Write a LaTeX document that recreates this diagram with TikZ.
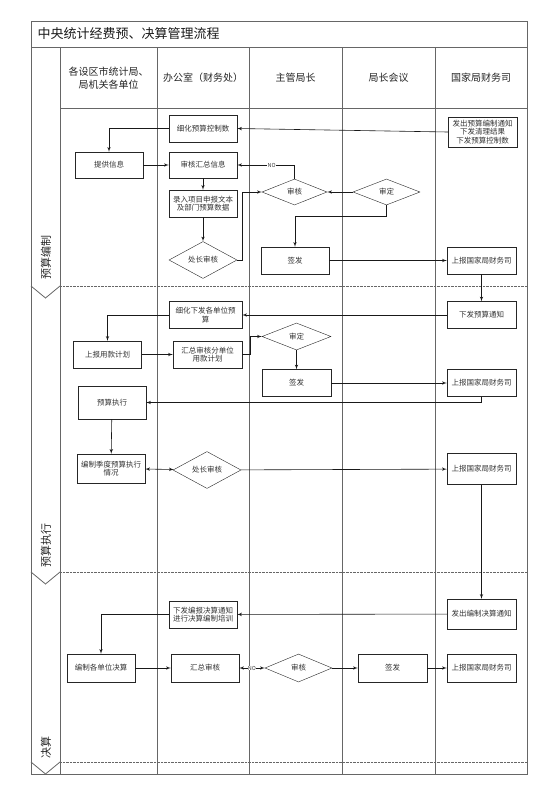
\documentclass[tikz,border=0pt]{standalone}
\usepackage{fontspec}
\newfontfamily\cjk{Noto Sans CJK SC}
\usetikzlibrary{arrows, shapes, positioning, calc}

\begin{document}
\begin{tikzpicture}
  [x=1pt, y=-1pt, >=latex', font=\cjk,
   stepbox/.style={rectangle, draw=black!85, fill=white, text=black!80, align=center,
     minimum width=68pt, minimum height=27pt, inner sep=1pt, font=\cjk\fontsize{7.5}{8.6}\selectfont},
   check/.style={diamond, draw=black!85, fill=white, text=black!80, inner sep=0pt,
     minimum width=68pt, minimum height=26pt, font=\cjk\fontsize{7.5}{8.6}\selectfont},
   head/.style={align=center, text=black!85, font=\cjk\fontsize{10}{12.5}\selectfont},
   flow/.style={->, draw=black!90, semithick},
   lane/.style={draw=black!60, line width=0.8pt},
   phase/.style={draw=black!60, densely dotted},
   nolabel/.style={fill=white, inner sep=0.4pt, text=black!75, font=\cjk\fontsize{5.5}{6}\selectfont}]
  \useasboundingbox (0,0) rectangle (555,785);

  % frame and lanes
  \draw[lane] (31,21) rectangle (527,774);
  \draw[lane] (31,47) -- (527,47);
  \draw[lane] (60,108) -- (527,108);
  \foreach \x in {60,157,249,342,435}
    \draw[lane] (\x,47) -- (\x,774);
  \foreach \y in {286,572,762} {
    \draw[phase] (60,\y) -- (527,\y);
    \draw[lane] (31,\y) -- (45.5,\y+12) -- (60,\y);
  }

  \node[anchor=west, text=black!90, font=\cjk\fontsize{13}{15}\selectfont] (title) at (34,34) {中央统计经费预、决算管理流程};
  \node[head] (h1) at (108.5,78) {各设区市统计局、\\局机关各单位};
  \node[head] (h2) at (203,78) {办公室（财务处）};
  \node[head] (h3) at (295.5,78) {主管局长};
  \node[head] (h4) at (388.5,78) {局长会议};
  \node[head] (h5) at (481,78) {国家局财务司};

  \node[rotate=90, text=black!85, font=\cjk\fontsize{11}{13}\selectfont] (s1) at (46,257) {预算编制};
  \node[rotate=90, text=black!85, font=\cjk\fontsize{11}{13}\selectfont] (s2) at (46,545) {预算执行};
  \node[rotate=90, text=black!85, font=\cjk\fontsize{11}{13}\selectfont] (s3) at (46,747) {决算};

  % budget drafting
  \node[stepbox] (A1) at (203,128.5) {细化预算控制数};
  \node[stepbox, minimum width=69pt, minimum height=30pt] (A2) at (482.5,132) {发出预算编制通知\\下发清理结果\\下发预算控制数};
  \node[stepbox, minimum height=26pt] (A3) at (109,165) {提供信息};
  \node[stepbox, minimum height=26pt] (A4) at (203,165) {审核汇总信息};
  \node[stepbox] (A5) at (203,203.5) {录入项目申报文本\\及部门预算数据};
  \node[check] (A6) at (203,260) {处长审核};
  \node[check, minimum width=65pt] (A7) at (294.5,192) {审核};
  \node[check, minimum width=67pt] (A8) at (386.5,192) {审定};
  \node[stepbox] (A9) at (295,260.5) {签发};
  \node[stepbox, minimum width=69pt] (A10) at (481.5,260.5) {上报国家局财务司};

  \draw[flow] (A2.west) -- (A1.east);
  \draw[flow] (A1.west) -| (A3.north);
  \draw[flow] (A3) -- (A4);
  \draw[flow] (A4) -- (A5);
  \draw[flow] (A5) -- (A6);
  \draw[flow] (A6.east) -- ++(5,0) |- (A7.west);
  \draw[flow] (A7.north) |- node[nolabel, pos=0.7] {NO} (A4.east);
  \draw[flow] (A8) -- (A7);
  \draw[flow] (A8.south) -- ++(0,11) -| (A9.north);
  \draw[flow] (A9) -- (A10);

  % budget execution
  \node[stepbox, minimum width=69pt] (B1) at (481.5,315) {下发预算通知};
  \node[stepbox, minimum width=73pt] (B2) at (205.5,315) {细化下发各单位预\\算};
  \node[stepbox] (B3) at (107.5,354.5) {上报用款计划};
  \node[stepbox, minimum width=69pt] (B4) at (207.5,354.5) {汇总审核分单位\\用款计划};
  \node[check, minimum width=69pt, minimum height=27pt] (B5) at (296.5,336.5) {审定};
  \node[stepbox, minimum width=69pt] (B6) at (296.5,383) {签发};
  \node[stepbox, minimum width=69pt] (B7) at (481.5,383) {上报国家局财务司};
  \node[stepbox, minimum height=33pt] (B8) at (112,402.5) {预算执行};
  \node[stepbox, minimum height=29pt] (B9) at (111,468.5) {编制季度预算执行\\情况};
  \node[check, minimum height=22pt] (B10) at (207,470) {处长审核};
  \node[stepbox, minimum width=69pt, minimum height=31pt] (B11) at (481.5,469) {上报国家局财务司};

  \draw[flow] (A10) -- (B1);
  \draw[flow] (B1) -- (B2);
  \draw[flow] (B2.west) -| (B3.north);
  \draw[flow] (B3) -- (B4);
  \draw[flow] (B4.east) -- ++(8,0) |- (B5.west);
  \draw[flow] (B5) -- (B6);
  \draw[flow] (B6) -- (B7);
  \draw[flow] (B7.south) |- (B8.east);
  \draw[flow] (B8) -- (B9);
  \draw[flow, <->] (B9) -- (B10);
  \draw[flow] (B10) -- (B11);

  % final accounts
  \node[stepbox, minimum width=69pt, minimum height=30pt] (C1) at (481.5,614) {发出编制决算通知};
  \node[stepbox] (C2) at (203,614.5) {下发编报决算通知\\进行决算编制培训};
  \node[stepbox, minimum height=28pt] (C3) at (101,668) {编制各单位决算};
  \node[stepbox, minimum height=28pt] (C4) at (205,668) {汇总审核};
  \node[check, minimum width=67pt, minimum height=28pt] (C5) at (298.5,668) {审核};
  \node[stepbox, minimum width=69pt, minimum height=28pt] (C6) at (392.5,668) {签发};
  \node[stepbox, minimum width=69pt, minimum height=28pt] (C7) at (481.5,668) {上报国家局财务司};

  \draw[flow] (B11) -- (C1);
  \draw[flow] (C1) -- (C2);
  \draw[flow] (C2.west) -| (C3.north);
  \draw[flow] (C3) -- (C4);
  \draw[flow, <->] (C4) -- node[nolabel] {NO} (C5);
  \draw[flow] (C5) -- (C6);
  \draw[flow] (C6) -- (C7);
\end{tikzpicture}
\end{document}
